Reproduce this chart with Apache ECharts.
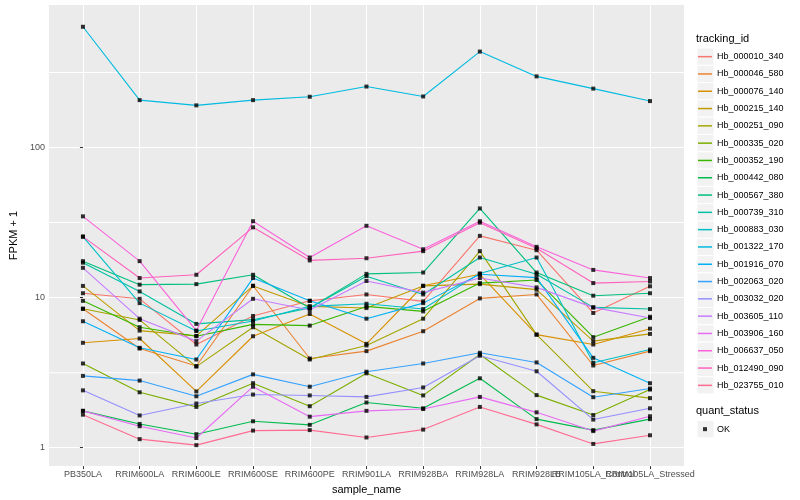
<!DOCTYPE html>
<html><head><meta charset="utf-8">
<script src="https://cdn.jsdelivr.net/npm/echarts@6/dist/echarts.min.js"></script>
<style>html,body{margin:0;padding:0;background:#fff}#c{width:800px;height:500px}</style>
</head><body><div id="c"></div>
<script>
const categories = ["PB350LA","RRIM600LA","RRIM600LE","RRIM600SE","RRIM600PE","RRIM901LA","RRIM928BA","RRIM928LA","RRIM928LB","RRIM105LA_Control","RRIM105LA_Stressed"];
const trackingIds = ["Hb_000010_340","Hb_000046_580","Hb_000076_140","Hb_000215_140","Hb_000251_090","Hb_000335_020","Hb_000352_190","Hb_000442_080","Hb_000567_380","Hb_000739_310","Hb_000883_030","Hb_001322_170","Hb_001916_070","Hb_002063_020","Hb_003032_020","Hb_003605_110","Hb_003906_160","Hb_006637_050","Hb_012490_090","Hb_023755_010"];
const colors = ["#F8766D","#EA8331","#D89000","#C09B00","#A3A500","#7CAE00","#39B600","#00BB4E","#00BF7D","#00C1A3","#00BFC4","#00BAE0","#00B0F6","#35A2FF","#9590FF","#C77CFF","#E76BF3","#FA62DB","#FF62BC","#FF6C91"];

// FPKM + 1 per sample (order of categories)
const Hb_000010_340 = [10.7, 9.82, 4.87, 7.54, 9.52, 10.5, 9.44, 25.8, 20.7, 7.90, 11.9];
const Hb_000046_580 = [8.43, 4.58, 3.50, 12.0, 3.93, 4.40, 5.97, 9.88, 10.5, 3.53, 4.40];
const Hb_000076_140 = [5.00, 5.34, 2.37, 5.53, 7.78, 4.92, 12.0, 14.3, 5.67, 4.87, 6.21];
const Hb_000215_140 = [11.97, 6.03, 5.56, 11.97, 8.74, 8.52, 11.97, 12.3, 11.3, 5.13, 5.73];
const Hb_000251_090 = [8.43, 7.10, 3.47, 6.35, 3.87, 4.80, 7.24, 20.4, 5.67, 2.38, 2.14];
const Hb_000335_020 = [3.64, 2.34, 1.87, 2.69, 1.89, 3.13, 2.23, 4.18, 2.24, 1.65, 2.44];
const Hb_000352_190 = [9.52, 6.35, 5.53, 6.63, 6.51, 8.74, 8.10, 12.5, 13.1, 5.45, 7.46];
const Hb_000442_080 = [1.76, 1.44, 1.23, 1.50, 1.42, 2.00, 1.83, 2.90, 1.55, 1.31, 1.55];
const Hb_000567_380 = [17.5, 12.2, 12.3, 14.2, 8.52, 14.4, 14.7, 39.3, 14.7, 10.3, 10.7];
const Hb_000739_310 = [17.1, 11.0, 6.68, 7.13, 8.52, 13.9, 10.5, 18.5, 14.3, 8.61, 8.39];
const Hb_000883_030 = [25.5, 9.19, 6.00, 6.99, 8.74, 9.10, 8.39, 14.5, 18.5, 3.68, 4.51];
const Hb_001322_170 = [638, 207, 191, 207, 218, 255, 219, 436, 298, 247, 204];
const Hb_001916_070 = [6.96, 4.63, 3.87, 13.5, 9.52, 7.24, 9.19, 14.3, 13.6, 3.97, 2.69];
const Hb_002063_020 = [3.01, 2.80, 2.20, 3.08, 2.55, 3.21, 3.64, 4.29, 3.70, 2.17, 2.48];
const Hb_003032_020 = [2.41, 1.64, 1.97, 2.26, 2.23, 2.18, 2.52, 4.10, 3.23, 1.54, 1.83];
const Hb_003605_110 = [15.8, 7.24, 5.13, 9.82, 8.27, 12.9, 10.8, 13.5, 11.7, 8.61, 7.31];
const Hb_003906_160 = [1.76, 1.39, 1.16, 2.55, 1.61, 1.76, 1.81, 2.18, 1.72, 1.29, 1.62];
const Hb_006637_050 = [34.8, 17.5, 6.03, 32.3, 18.5, 30.1, 21.0, 32.3, 21.8, 15.3, 13.5];
const Hb_012490_090 = [25.5, 13.5, 14.2, 29.4, 17.7, 18.3, 20.4, 31.6, 21.3, 12.5, 12.8];
const Hb_023755_010 = [1.66, 1.14, 1.04, 1.30, 1.31, 1.17, 1.32, 1.87, 1.43, 1.06, 1.21];

const seriesValues = [Hb_000010_340, Hb_000046_580, Hb_000076_140, Hb_000215_140, Hb_000251_090, Hb_000335_020, Hb_000352_190, Hb_000442_080, Hb_000567_380, Hb_000739_310, Hb_000883_030, Hb_001322_170, Hb_001916_070, Hb_002063_020, Hb_003032_020, Hb_003605_110, Hb_003906_160, Hb_006637_050, Hb_012490_090, Hb_023755_010];

const yTickValues = [1, 10, 100];
const yTickLabels = ["1", "10", "100"];
const yMinorValues = [3.1623, 31.623, 316.23];
const quantStatus = "OK";

const FONT = '"Liberation Sans", Arial, Helvetica, sans-serif';
const catIdx = categories.map((c, i) => i);
const evenIdx = catIdx.filter(i => i % 2 === 0);
const oddIdx = catIdx.filter(i => i % 2 === 1);
const yMin = 0.754, yMax = 891;

const chart = echarts.init(document.getElementById('c'), null, {renderer: 'canvas'});

const lineSeries = trackingIds.map((id, k) => ({
  name: id, type: 'line', xAxisIndex: 0, yAxisIndex: 0,
  data: seriesValues[k].map((v, i) => [i, v]),
  symbol: 'none', z: 2, silent: true,
  lineStyle: {width: 1.1, color: colors[k]},
  itemStyle: {color: colors[k]}
}));
// minor gridlines (ggplot-style, midway between decades), positioned by the log y scale
const minorGridSeries = {
  name: 'minor-grid', type: 'custom', xAxisIndex: 0, yAxisIndex: 0, z: 2, silent: true, clip: false,
  data: yMinorValues.map(v => [0, v]),
  encode: {x: 0, y: 1},
  renderItem: (params, api) => {
    const cs = params.coordSys;
    const y = api.coord([0, api.value(1)])[1];
    return {type: 'rect', silent: true, shape: {x: cs.x, y: y - 0.5, width: cs.width, height: 1}, style: {fill: '#FFFFFF'}};
  }
};
const pointData = [];
seriesValues.forEach(vals => vals.forEach((v, i) => pointData.push([i, v])));
const pointSeries = {
  name: quantStatus, type: 'scatter', xAxisIndex: 0, yAxisIndex: 0,
  data: pointData, symbol: 'rect', symbolSize: 4, z: 3, silent: true,
  itemStyle: {color: '#000'}
};

const keyRects = trackingIds.map((id, i) => ({
  type: 'rect', z: 1, silent: true,
  shape: {x: 697, y: 48 + i * 17.3, width: 17, height: 17.3},
  style: {fill: '#F2F2F2', stroke: '#FFFFFF', lineWidth: 1}
}));

const xLabelCommon = {formatter: v => categories[Math.round(v)], fontFamily: FONT, fontSize: 9, color: '#4D4D4D', margin: 4, hideOverlap: false, showMinLabel: true, showMaxLabel: true};

const option = {
  animation: false,
  backgroundColor: '#FFFFFF',
  grid: {left: 40, right: 116, top: 5, bottom: 31, show: true, backgroundColor: '#EBEBEB', borderWidth: 0},
  xAxis: [{
    type: 'value', min: -0.6, max: 10.6, position: 'bottom',
    name: 'sample_name', nameLocation: 'middle', nameGap: 13,
    nameTextStyle: {fontFamily: FONT, fontSize: 11, color: '#000'},
    axisLine: {show: false},
    axisTick: {show: true, length: 3, lineStyle: {color: '#333333', width: 1}, customValues: catIdx},
    axisLabel: Object.assign({customValues: evenIdx}, xLabelCommon),
    splitLine: {show: true, lineStyle: {color: '#FFFFFF', width: 1.07}}
  }, {
    type: 'value', min: -0.6, max: 10.6, position: 'bottom', offset: 0,
    axisLine: {show: false},
    axisTick: {show: false, customValues: oddIdx},
    axisLabel: Object.assign({customValues: oddIdx}, xLabelCommon),
    splitLine: {show: false}
  }],
  yAxis: {
    type: 'log', logBase: 10, min: yMin, max: yMax, position: 'left',
    name: 'FPKM + 1', nameLocation: 'middle', nameGap: 21,
    nameTextStyle: {fontFamily: FONT, fontSize: 11, color: '#000'},
    axisLine: {show: false},
    axisTick: {show: true, length: 3, lineStyle: {color: '#333333', width: 1}, customValues: yTickValues},
    axisLabel: {customValues: yTickValues, formatter: v => yTickLabels[yTickValues.indexOf(Math.round(v))] || String(Math.round(v)), fontFamily: FONT, fontSize: 9, color: '#4D4D4D', margin: 4, showMinLabel: true, showMaxLabel: true},
    splitLine: {show: true, lineStyle: {color: '#FFFFFF', width: 1.07}},
    minorSplitLine: {show: false}
  },
  legend: [{
    data: trackingIds, orient: 'vertical', left: 698, top: 48, padding: 0, itemGap: 0,
    itemWidth: 14, itemHeight: 1.5, icon: 'rect', selectedMode: false,
    textStyle: {fontFamily: FONT, fontSize: 9, color: '#000', lineHeight: 17.3}
  }, {
    data: [quantStatus], orient: 'vertical', left: 703, top: 420.5, padding: 0, itemGap: 0,
    itemWidth: 4, itemHeight: 4, icon: 'rect', selectedMode: false,
    textStyle: {fontFamily: FONT, fontSize: 9, color: '#000', lineHeight: 17.3, padding: [0, 0, 0, 5]}
  }],
  graphic: [
    {type: 'text', left: 696, top: 33, z: 5, silent: true, style: {text: 'tracking_id', font: '11px ' + FONT, fill: '#000'}},
    {type: 'text', left: 696, top: 405, z: 5, silent: true, style: {text: 'quant_status', font: '11px ' + FONT, fill: '#000'}},
    {type: 'rect', z: 1, silent: true, shape: {x: 697, y: 420.5, width: 17, height: 17.3}, style: {fill: '#F2F2F2', stroke: '#FFFFFF', lineWidth: 1}}
  ].concat(keyRects),
  series: [minorGridSeries].concat(lineSeries, [pointSeries])
};
chart.setOption(option);
</script>
</body></html>
